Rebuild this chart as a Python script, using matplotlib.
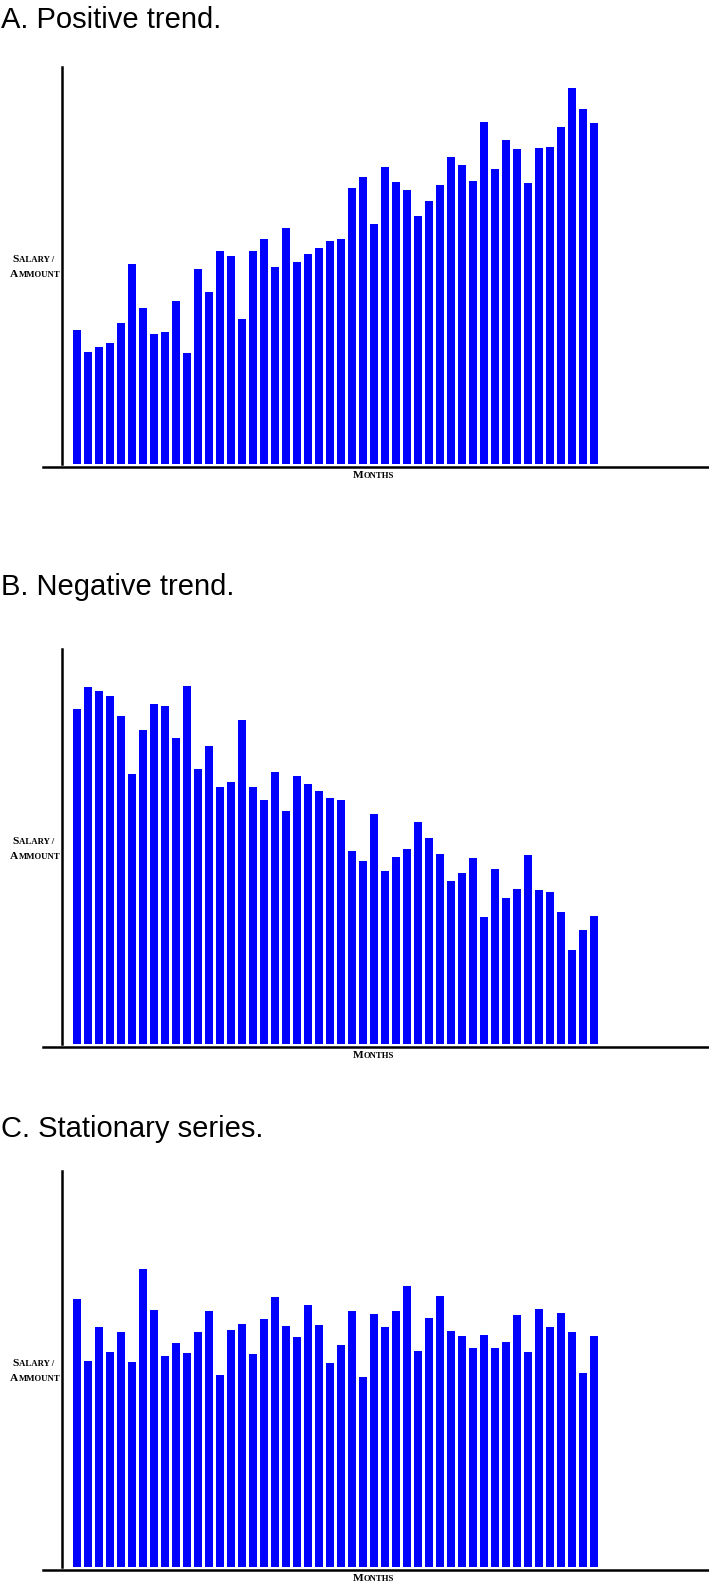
import numpy as np
from matplotlib import pyplot as plt

# bar heights (same arbitrary units for all panels)
positive = [134, 112, 117, 121, 141, 200, 156, 130, 132, 163, 111, 195,
            172, 213, 208, 145, 213, 225, 197, 236, 202, 210, 216, 223,
            225, 276, 287, 240, 297, 282, 274, 248, 263, 279, 307, 299,
            283, 342, 295, 324, 315, 281, 316, 317, 337, 376, 355, 341]
negative = [335, 357, 353, 348, 328, 270, 314, 340, 338, 306, 358, 275,
            298, 257, 262, 324, 257, 244, 272, 233, 268, 260, 253, 246,
            244, 193, 183, 230, 173, 187, 195, 222, 206, 190, 163, 171,
            186, 127, 175, 146, 155, 189, 154, 152, 132, 94, 114, 128]
stationary = [268, 206, 240, 215, 235, 205, 298, 257, 211, 224, 214, 235,
              256, 192, 237, 243, 213, 248, 270, 241, 230, 262, 242, 204,
              222, 256, 190, 253, 240, 256, 281, 216, 249, 271, 236, 231,
              219, 232, 219, 225, 252, 215, 258, 240, 254, 235, 194, 231]
titles = ["A. Positive trend.", "B. Negative trend.", "C. Stationary series."]

W, H = 709, 1588


def px_text(fig, x, y, s, **kw):
    # x, y in pixels from the top left corner
    return fig.text(x / W, 1 - y / H, s, **kw)


def small_caps(fig, x, y, word, big=8.2, small=6.3):
    # fake small caps: first letter large, the rest smaller, same baseline
    r = fig.canvas.get_renderer()
    style = dict(family="Liberation Serif", weight="bold", va="baseline", ha="left")
    t = px_text(fig, x, y, word[0], fontsize=big, **style)
    x1 = t.get_window_extent(r).x1
    px_text(fig, x1 + 0.3, y, word[1:], fontsize=small, **style)


def draw_panel(fig, top, base, data, title, title_y):
    ax = fig.add_axes([43 / W, 1 - base / H, 666 / W, (base - top) / H])
    x = np.arange(len(data))
    ax.bar(x, data, width=0.73, color="#0000FF")
    ax.set_xlim(-3.06, 57.48)
    ax.set_ylim(0, base - top)
    for s in ["top", "right"]:
        ax.spines[s].set_visible(False)
    ax.spines["left"].set_position(("data", -1.34))
    ax.spines["left"].set_linewidth(1.8)
    ax.spines["bottom"].set_position(("outward", 2.2))
    ax.spines["bottom"].set_linewidth(1.8)
    ax.set_xticks([])
    ax.set_yticks([])

    px_text(fig, 1, title_y, title, fontsize=21, family="Liberation Sans",
            va="baseline", ha="left")
    small_caps(fig, 12.5, top + 195, "SALARY /")
    small_caps(fig, 10, top + 210, "AMMOUNT")
    small_caps(fig, 353, base + 14, "MONTHS")


def main() -> None:
    fig = plt.figure(figsize=(W / 100, H / 100), dpi=100)
    draw_panel(fig, 67, 464, positive, titles[0], 28)
    draw_panel(fig, 649, 1044, negative, titles[1], 595)
    draw_panel(fig, 1171, 1567, stationary, titles[2], 1137)
    fig.savefig("out.png", dpi=100)


if __name__ == '__main__':
    main()
